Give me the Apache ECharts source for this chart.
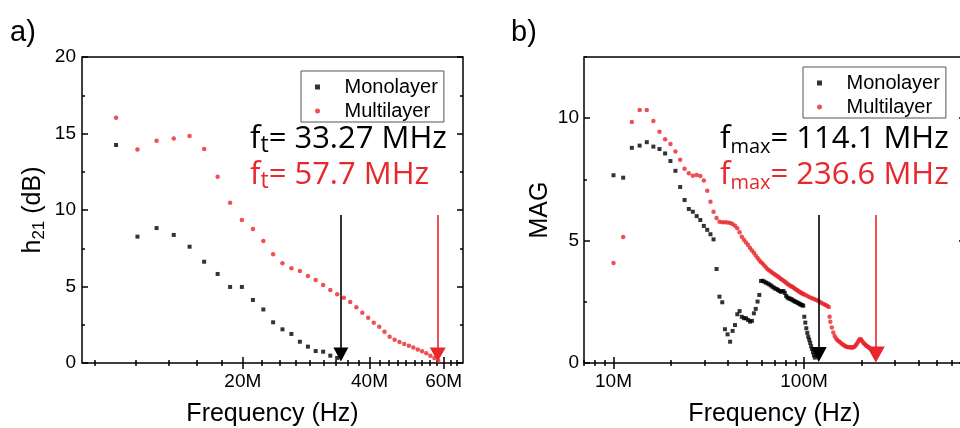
<!DOCTYPE html>
<html>
<head>
<meta charset="utf-8">
<script src="https://cdn.jsdelivr.net/npm/echarts@6.0.0/dist/echarts.min.js"></script>
<style>
  html, body { margin: 0; padding: 0; background: #fff; }
  #main { width: 960px; height: 428px; }
</style>
</head>
<body>
<div id="main"></div>
<script>
// ---- panel a: h21 (dB) vs frequency (MHz) ----
const freqA = [10.00, 11.24, 12.48, 13.71, 14.95, 16.19, 17.43, 18.66, 19.90, 21.14,
  22.38, 23.61, 24.85, 26.09, 27.33, 28.56, 29.80, 31.04, 32.28, 33.51,
  34.75, 35.99, 37.23, 38.46, 39.70, 40.94, 42.18, 43.41, 44.65, 45.89,
  47.13, 48.36, 49.60, 50.84, 52.08, 53.31, 54.55, 55.79, 57.03, 58.26];
const monoA = [14.25, 8.26, 8.82, 8.37, 7.60, 6.62, 5.82, 4.97, 4.97, 4.12,
  3.50, 2.66, 2.20, 1.90, 1.39, 1.07, 0.78, 0.74, 0.48, 0.33];
const multiA = [16.03, 13.95, 14.53, 14.68, 14.84, 13.99, 12.18, 10.48, 9.35, 8.76,
  7.97, 7.10, 6.52, 6.19, 6.01, 5.69, 5.42, 5.10, 4.77, 4.49,
  4.27, 3.99, 3.64, 3.29, 2.96, 2.63, 2.37, 2.05, 1.72, 1.52,
  1.37, 1.24, 1.13, 1.02, 0.89, 0.76, 0.63, 0.48, 0.33, 0.15];

// ---- panel b: MAG vs frequency (MHz) ----
const freqB = [10.00, 11.24, 12.48, 13.71, 14.95, 16.19, 17.43, 18.66, 19.90, 21.14,
  22.38, 23.61, 24.85, 26.09, 27.33, 28.56, 29.80, 31.04, 32.28, 33.51,
  34.75, 35.99, 37.23, 38.46, 39.70, 40.94, 42.18, 43.41, 44.65, 45.89,
  47.13, 48.36, 49.60, 50.84, 52.08, 53.31, 54.55, 55.79, 57.03, 58.26,
  59.50, 60.74, 61.98, 63.21, 64.45, 65.69, 66.93, 68.16, 69.40, 70.64,
  71.88, 73.11, 74.35, 75.59, 76.83, 78.06, 79.30, 80.54, 81.78, 83.01,
  84.25, 85.49, 86.73, 87.96, 89.20, 90.44, 91.68, 92.91, 94.15, 95.39,
  96.63, 97.86, 99.10, 100.34, 101.58, 102.81, 104.05, 105.29, 106.53, 107.76,
  109.00, 110.24, 111.48, 112.71, 113.95];
const monoB = [7.67, 7.57, 8.79, 8.88, 9.02, 8.84, 8.74, 8.56, 8.25, 7.85,
  7.19, 6.66, 6.29, 6.18, 6.00, 5.84, 5.60, 5.44, 5.26, 5.05,
  3.84, 2.71, 2.48, 1.38, 1.17, 0.87, 1.31, 1.55, 1.99, 2.12,
  1.89, 1.83, 1.83, 1.76, 1.69, 1.72, 2.03, 2.21, 2.51, 2.78,
  3.35, 3.36, 3.32, 3.28, 3.25, 3.21, 3.17, 3.12, 3.08, 3.04,
  3.02, 2.98, 2.94, 2.91, 2.93, 2.94, 2.86, 2.74, 2.68, 2.64,
  2.63, 2.61, 2.58, 2.55, 2.52, 2.50, 2.48, 2.45, 2.43, 2.40,
  2.38, 2.36, 2.34, 1.89, 1.65, 1.42, 1.23, 1.07, 0.95, 0.82,
  0.68, 0.57, 0.44, 0.32, 0.22];
// multilayer uses freqB for its first 73 points, then the tail below
const multiB = [4.09, 5.15, 9.84, 10.34, 10.34, 9.89, 9.45, 9.14, 8.95, 8.64,
  8.30, 7.94, 7.75, 7.65, 7.68, 7.64, 7.45, 7.04, 6.59, 6.18,
  5.92, 5.77, 5.75, 5.75, 5.74, 5.72, 5.68, 5.61, 5.50, 5.34,
  5.16, 5.03, 4.92, 4.82, 4.70, 4.60, 4.50, 4.39, 4.29, 4.20,
  4.12, 4.05, 3.97, 3.90, 3.83, 3.78, 3.74, 3.69, 3.65, 3.61,
  3.56, 3.52, 3.48, 3.43, 3.40, 3.36, 3.32, 3.28, 3.24, 3.20,
  3.17, 3.14, 3.11, 3.08, 3.04, 3.01, 2.98, 2.95, 2.92, 2.89,
  2.87, 2.84, 2.82];
const freqBTail = [100.34, 102.81, 105.29, 107.76, 110.24, 112.71, 115.19, 117.66, 120.14, 122.61,
  125.09, 127.56, 130.04, 132.51, 134.99, 136.23, 137.46, 139.94, 142.41, 144.89,
  147.36, 149.84, 152.31, 154.79, 157.26, 159.74, 162.21, 164.69, 167.16, 169.64,
  172.11, 174.59, 177.06, 179.54, 182.01, 184.49, 186.96, 189.44, 191.91, 194.39,
  196.86, 199.34, 201.81, 204.29, 206.76, 209.24, 211.71, 214.19, 216.66, 219.14,
  221.61, 224.09, 226.56, 229.04, 231.51, 233.99, 236.46, 238.94];
const multiBTail = [2.80, 2.76, 2.72, 2.68, 2.64, 2.61, 2.58, 2.55, 2.51, 2.47,
  2.43, 2.40, 2.37, 2.33, 2.29, 1.89, 1.68, 1.45, 1.25, 1.10,
  1.00, 0.93, 0.89, 0.85, 0.80, 0.76, 0.72, 0.68, 0.66, 0.65,
  0.64, 0.64, 0.63, 0.63, 0.64, 0.67, 0.72, 0.79, 0.86, 0.93,
  0.98, 0.96, 0.90, 0.84, 0.80, 0.76, 0.71, 0.68, 0.66, 0.63,
  0.60, 0.57, 0.53, 0.50, 0.46, 0.42, 0.38, 0.33];

// ---- ticks ----
const xTicksA = [20, 40, 60];
const xMinorA = [8.89, 11.11, 13.33, 15.56, 17.78, 22.22, 24.44, 26.67, 28.89, 31.11,
  33.33, 35.56, 37.78, 42.22, 44.44, 46.67, 48.89, 51.11, 53.33, 55.56, 57.78, 62.22, 64.44];
const xTicksB = [10, 100];
const xMinorB = [7, 8, 9, 20, 30, 40, 50, 60, 70, 80, 90, 200, 300, 400, 500, 600];
const yTicksA = [0, 5, 10, 15, 20];
const yMinorA = [2.5, 7.5, 12.5, 17.5];
const yTicksB = [0, 5, 10];
const yMinorB = [2.5, 7.5, 12.5];

// ---- arrows (MHz), arrow top / tip in y units ----
const arrowsA = { mono: 34.2, multi: 58.1, top: 9.67, tip: 0.55 };
const arrowsB = { mono: 119.5, multi: 238.2, top: 6.05, tip: 0.35 };

const SANS = 'Liberation Sans';
const RED = '#e8262b';
const SQUARE = 'path://M0 0H10V10H0Z';

const pairs = (xs, ys) => ys.map((y, i) => [xs[i], y]);

function xAxisOf(grid, min, max, pos, ticks, len, withLabels) {
  return {
    type: 'log', logBase: 10, gridIndex: grid, min: min, max: max, position: pos,
    axisLine: { show: false },
    axisTick: { show: true, inside: true, length: len, customValues: ticks,
      lineStyle: { color: '#000', width: 1.5 } },
    minorTick: { show: false },
    axisLabel: withLabels ? {
      show: true, customValues: ticks, margin: 9,
      formatter: v => Math.round(v) + 'M',
      fontSize: 19, fontFamily: SANS, color: '#000'
    } : { show: false },
    splitLine: { show: false },
    name: withLabels ? 'Frequency (Hz)' : '',
    nameLocation: 'middle', nameGap: 39,
    nameTextStyle: { fontSize: 25, fontFamily: SANS, color: '#000' }
  };
}

function yAxisOf(grid, min, max, pos, ticks, len, labelMargin, name, nameGap) {
  return {
    type: 'value', gridIndex: grid, min: min, max: max, position: pos,
    axisLine: { show: false },
    axisTick: { show: true, inside: true, length: len, customValues: ticks,
      lineStyle: { color: '#000', width: 1.5 } },
    axisLabel: labelMargin ? {
      show: true, customValues: ticks, margin: labelMargin,
      fontSize: 19, fontFamily: SANS, color: '#000'
    } : { show: false },
    splitLine: { show: false },
    name: name || '',
    nameLocation: 'middle', nameGap: nameGap || 30, nameRotate: 90,
    nameTextStyle: {
      fontSize: 25, fontFamily: SANS, color: '#000',
      rich: {
        m: { fontSize: 25, fontFamily: SANS, color: '#000', lineHeight: 30 },
        s: { fontSize: 17, fontFamily: SANS, color: '#000', lineHeight: 15, verticalAlign: 'bottom' }
      }
    }
  };
}

function arrow(x, top, tip, color, size) {
  return {
    silent: true, animation: false,
    symbol: ['none', 'triangle'], symbolSize: size,
    label: { show: false },
    emphasis: { disabled: true },
    lineStyle: { color: color, width: 1.6, type: 'solid' },
    data: [[{ coord: [x, top] }, { coord: [x, tip] }]]
  };
}

function legendAt(left, top) {
  return {
    left: left, top: top, orient: 'vertical',
    itemWidth: 36, itemHeight: 5, itemGap: 4,
    padding: [6, 6, 1, 14],
    borderColor: '#555', borderWidth: 1,
    selectedMode: false,
    textStyle: { fontSize: 20, fontFamily: SANS, color: '#000', padding: [0, 0, 0, 4] },
    data: [{ name: 'Monolayer', icon: SQUARE }, { name: 'Multilayer', icon: 'circle' }]
  };
}

const annot = (c, sub) => ({
  k: { fontFamily: 'Open Sans', fontSize: 31, fontWeight: 'normal', color: c, lineHeight: 36 },
  s: { fontFamily: 'Open Sans', fontSize: sub, fontWeight: 'normal', color: c, lineHeight: 12, verticalAlign: 'bottom' }
});
const annotRich = (sub) => Object.assign(annot('#000', sub),
  { rk: annot(RED, sub).k, rs: annot(RED, sub).s });

var myChart = echarts.init(document.getElementById('main'));

var option = {
  animation: false,
  backgroundColor: '#fff',
  title: [
    { text: 'a)', left: 10, top: 18, padding: 0,
      textStyle: { fontSize: 29, lineHeight: 29, fontWeight: 'normal', fontFamily: SANS, color: '#000' } },
    { text: 'b)', left: 511, top: 18, padding: 0,
      textStyle: { fontSize: 29, lineHeight: 29, fontWeight: 'normal', fontFamily: SANS, color: '#000' } },
    { left: 250, top: 121, padding: 0,
      text: '{k|f}{s|t}{k|= 33.27 MHz}\n{rk|f}{rs|t}{rk|= 57.7 MHz}',
      textStyle: { fontWeight: 'normal', rich: annotRich(23) } },
    { left: 720, top: 121, padding: 0,
      text: '{k|f}{s|max}{k|= 114.1 MHz}\n{rk|f}{rs|max}{rk|= 236.6 MHz}',
      textStyle: { fontWeight: 'normal', rich: annotRich(20) } }
  ],
  legend: [legendAt(301, 71), legendAt(803, 67)],
  grid: [
    { left: 82, top: 57, width: 381, height: 306, show: true,
      borderColor: '#000', borderWidth: 1.5, backgroundColor: 'transparent', outerBoundsMode: 'none' },
    { left: 584, top: 57, width: 381, height: 306, show: true,
      borderColor: '#000', borderWidth: 1.5, backgroundColor: 'transparent', outerBoundsMode: 'none' }
  ],
  xAxis: [
    xAxisOf(0, 8.3, 66.7, 'bottom', xTicksA, 6, true),
    xAxisOf(0, 8.3, 66.7, 'bottom', xMinorA, 3, false),
    xAxisOf(0, 8.3, 66.7, 'top', xTicksA, 6, false),
    xAxisOf(0, 8.3, 66.7, 'top', xMinorA, 3, false),
    xAxisOf(1, 7, 700, 'bottom', xTicksB, 6, true),
    xAxisOf(1, 7, 700, 'bottom', xMinorB, 3, false),
    xAxisOf(1, 7, 700, 'top', xTicksB, 6, false),
    xAxisOf(1, 7, 700, 'top', xMinorB, 3, false)
  ],
  yAxis: [
    yAxisOf(0, 0, 20, 'left', yTicksA, 6, 6, '{m|h}{s|21}{m| (dB)}', 34),
    yAxisOf(0, 0, 20, 'left', yMinorA, 3),
    yAxisOf(0, 0, 20, 'right', yTicksA, 6),
    yAxisOf(0, 0, 20, 'right', yMinorA, 3),
    yAxisOf(1, 0, 12.5, 'left', yTicksB, 6, 5, 'MAG', 31),
    yAxisOf(1, 0, 12.5, 'left', yMinorB, 3),
    yAxisOf(1, 0, 12.5, 'right', yTicksB, 6),
    yAxisOf(1, 0, 12.5, 'right', yMinorB, 3)
  ],
  series: [
    { name: 'Monolayer', type: 'scatter', xAxisIndex: 0, yAxisIndex: 0,
      symbol: 'rect', symbolSize: 4, itemStyle: { color: '#000' },
      data: pairs(freqA, monoA),
      markLine: arrow(arrowsA.mono, arrowsA.top, arrowsA.tip, '#000', [15, 14]) },
    { name: 'Multilayer', type: 'scatter', xAxisIndex: 0, yAxisIndex: 0,
      symbol: 'circle', symbolSize: 4.5, itemStyle: { color: RED },
      data: pairs(freqA, multiA),
      markLine: arrow(arrowsA.multi, arrowsA.top, arrowsA.tip, RED, [16, 14]) },
    { name: 'Monolayer', type: 'scatter', xAxisIndex: 4, yAxisIndex: 4,
      symbol: 'rect', symbolSize: 4, itemStyle: { color: '#000' },
      data: pairs(freqB, monoB),
      markLine: arrow(arrowsB.mono, arrowsB.top, arrowsB.tip, '#000', [16, 15]) },
    { name: 'Multilayer', type: 'scatter', xAxisIndex: 4, yAxisIndex: 4,
      symbol: 'circle', symbolSize: 4.5, itemStyle: { color: RED },
      data: pairs(freqB, multiB).concat(pairs(freqBTail, multiBTail)),
      markLine: arrow(arrowsB.multi, arrowsB.top, arrowsB.tip, RED, [18, 16]) }
  ]
};

myChart.setOption(option);
</script>
</body>
</html>
